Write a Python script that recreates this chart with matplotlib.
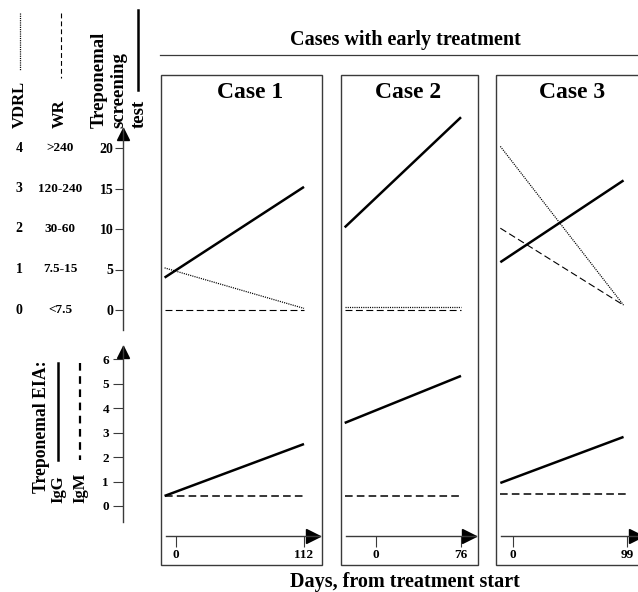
import matplotlib
matplotlib.use('Agg')
import matplotlib.pyplot as plt
import matplotlib.transforms as mtransforms
from matplotlib.patches import Rectangle

plt.rcParams['font.family'] = ['Liberation Serif', 'DejaVu Serif']
plt.rcParams['font.weight'] = 'bold'
plt.rcParams['lines.scale_dashes'] = False

# ---------------- data ----------------
cases = ['Case 1', 'Case 2', 'Case 3']
end_days = [112, 76, 99]
line_start_days = [-10, -28, -11]
line_end_days = [112, 76, 96]
igm_end_days = [112, 76, 100]
screening = [[4.0, 15.2], [10.2, 23.8], [5.9, 16.0]]
vdrl = [[5.2, 0.2], [0.4, 0.4], [20.2, 0.6]]      # plotted on the 0-20 screening scale
wr = [[0.0, 0.0], [0.0, 0.0], [10.1, 0.6]]
igg = [[0.41, 2.53], [3.39, 5.31], [0.94, 2.82]]
igm = [[0.41, 0.41], [0.41, 0.41], [0.49, 0.49]]

screen_ticks = [0, 5, 10, 15, 20]
vdrl_labels = ['0', '1', '2', '3', '4']
wr_labels = ['<7.5', '7.5-15', '30-60', '120-240', '>240']
eia_ticks = [0, 1, 2, 3, 4, 5, 6]

# ---------------- layout (pixels) ----------------
W, H = 638, 592
box_x = [(161, 322), (341, 478), (496, 660)]
box_y = (75, 565)
day0_px = [176, 376, 513]
dayN_px = [304, 461, 627]
xaxis_start_px = [166, 346, 501]
xaxis_tip_px = [320, 476, 643]
title_x = [250, 408, 572]
UP0, UPK = 310.0, 8.1       # upper scale: px = UP0 - UPK*v
LO0, LOK = 506.0, 24.5      # lower scale: px = LO0 - LOK*v
GRAY = '#3a3a3a'

fig = plt.figure(figsize=(W / 100, H / 100), dpi=100)
bg = fig.add_axes([0, 0, 1, 1])
bg.set_xlim(0, W)
bg.set_ylim(H, 0)
bg.axis('off')


def add_ax(x0, x1, y0, y1):
    return fig.add_axes([x0 / W, 1 - y1 / H, (x1 - x0) / W, (y1 - y0) / H])


# titles
bg.text(405, 40, 'Cases with early treatment', ha='center', va='center', fontsize=14.5)
bg.plot([160, 638], [55, 55], color=GRAY, lw=0.9)
bg.text(405, 582, 'Days, from treatment start', ha='center', va='center', fontsize=14.5)

# legend keys, upper-left
bg.text(20, 128, 'VDRL', rotation=90, ha='center', va='bottom', fontsize=12)
bg.plot([20, 20], [13, 70], color='black', lw=0.9, dashes=(0.8, 0.8))
bg.text(60, 128, 'WR', rotation=90, ha='center', va='bottom', fontsize=12)
bg.plot([61, 61], [13, 78], color='black', lw=0.8, dashes=(3.5, 2.2))
bg.text(119, 128, 'Treponemal\nscreening\ntest', rotation=90, ha='center', va='bottom',
        multialignment='left', fontsize=13.5, linespacing=1.22)
bg.plot([138, 138], [10, 90], color='black', lw=1.8)

# legend keys, lower-left
bg.text(41, 493, 'Treponemal EIA:', rotation=90, ha='center', va='bottom', fontsize=12.7)
bg.text(58, 503, 'IgG', rotation=90, ha='center', va='bottom', fontsize=12)
bg.text(80, 503, 'IgM', rotation=90, ha='center', va='bottom', fontsize=12)
bg.plot([58, 58], [363, 460], color='black', lw=1.8)
bg.plot([80, 80], [363, 460], color='black', lw=1.6, dashes=(5.5, 4))

# left upper scale axis
ax_lu = add_ax(123, 130, 128, 330)
ax_lu.set_xlim(0, 1)
ax_lu.set_ylim((UP0 - 330) / UPK, (UP0 - 128) / UPK)
for s in ['top', 'right', 'bottom']:
    ax_lu.spines[s].set_visible(False)
ax_lu.spines['left'].set_color(GRAY)
ax_lu.spines['left'].set_linewidth(1.0)
ax_lu.set_xticks([])
ax_lu.set_yticks(screen_ticks)
ax_lu.set_yticklabels([str(t) for t in screen_ticks])
ax_lu.tick_params(axis='y', direction='out', length=6, width=0.8, pad=1, labelsize=10, color=GRAY)
ax_lu.patch.set_visible(False)
ax_lu.plot([0], [(UP0 - 134) / UPK], marker='^', ms=9, color='black', clip_on=False)
tr = mtransforms.blended_transform_factory(bg.transData, ax_lu.transData)
for t, vl, wl in zip(screen_ticks, vdrl_labels, wr_labels):
    bg.text(19, t, vl, transform=tr, ha='center', va='center', fontsize=10)
    bg.text(60, t, wl, transform=tr, ha='center', va='center', fontsize=9.5)

# left lower scale axis
ax_ll = add_ax(123, 130, 346, 522)
ax_ll.set_xlim(0, 1)
ax_ll.set_ylim((LO0 - 522) / LOK, (LO0 - 346) / LOK)
for s in ['top', 'right', 'bottom']:
    ax_ll.spines[s].set_visible(False)
ax_ll.spines['left'].set_color(GRAY)
ax_ll.spines['left'].set_linewidth(1.0)
ax_ll.set_xticks([])
ax_ll.set_yticks(eia_ticks)
ax_ll.set_yticklabels([str(t) for t in eia_ticks])
ax_ll.tick_params(axis='y', direction='out', length=7, width=0.8, pad=3, labelsize=9.5, color=GRAY)
ax_ll.patch.set_visible(False)
ax_ll.plot([0], [(LO0 - 352) / LOK], marker='^', ms=9, color='black', clip_on=False)

# panels
for i, name in enumerate(cases):
    bl, br = box_x[i]
    bg.add_patch(Rectangle((bl, box_y[0]), br - bl, box_y[1] - box_y[0],
                           fill=False, edgecolor=GRAY, lw=1.0))
    a = day0_px[i]
    b = (dayN_px[i] - a) / end_days[i]

    def d(px):
        return (px - a) / b

    bg.text(title_x[i], 92, name, ha='center', va='center', fontsize=17)

    x0, x1 = bl + 1, min(br, W) - 1
    xs = [line_start_days[i], line_end_days[i]]

    ax_u = add_ax(x0, x1, 80, 330)
    ax_u.set_xlim(d(x0), d(x1))
    ax_u.set_ylim((UP0 - 330) / UPK, (UP0 - 80) / UPK)
    ax_u.axis('off')
    ax_u.plot(xs, screening[i], color='black', lw=1.8, solid_capstyle='butt')
    ax_u.plot(xs, vdrl[i], color='black', lw=0.9, dashes=(0.8, 0.8))
    ax_u.plot(xs, wr[i], color='black', lw=0.8, dashes=(5, 2.5))

    ax_d = add_ax(x0, x1, 340, 525)
    ax_d.set_xlim(d(x0), d(x1))
    ax_d.set_ylim((LO0 - 525) / LOK, (LO0 - 340) / LOK)
    ax_d.axis('off')
    ax_d.plot(xs, igg[i], color='black', lw=1.8, solid_capstyle='butt')
    ax_d.plot([line_start_days[i], igm_end_days[i]], igm[i], color='black', lw=1.1,
              dashes=(5.5, 3))

    xs_px, xt_px = xaxis_start_px[i], xaxis_tip_px[i]
    ax_x = add_ax(xs_px, xt_px, 500, 536)
    ax_x.set_xlim(d(xs_px), d(xt_px))
    ax_x.set_ylim(0, 1)
    ax_x.patch.set_visible(False)
    for s in ['top', 'right', 'left']:
        ax_x.spines[s].set_visible(False)
    ax_x.spines['bottom'].set_color(GRAY)
    ax_x.spines['bottom'].set_linewidth(1.0)
    ax_x.set_yticks([])
    ax_x.set_xticks([0, end_days[i]])
    ax_x.set_xticklabels(['0', str(end_days[i])])
    ax_x.tick_params(axis='x', direction='out', length=8, width=0.8, pad=1, labelsize=9.5, color=GRAY)
    ax_x.plot([d(xt_px - 7)], [0], marker='>', ms=10, color='black', clip_on=False)

fig.savefig('out.png', dpi=100)
